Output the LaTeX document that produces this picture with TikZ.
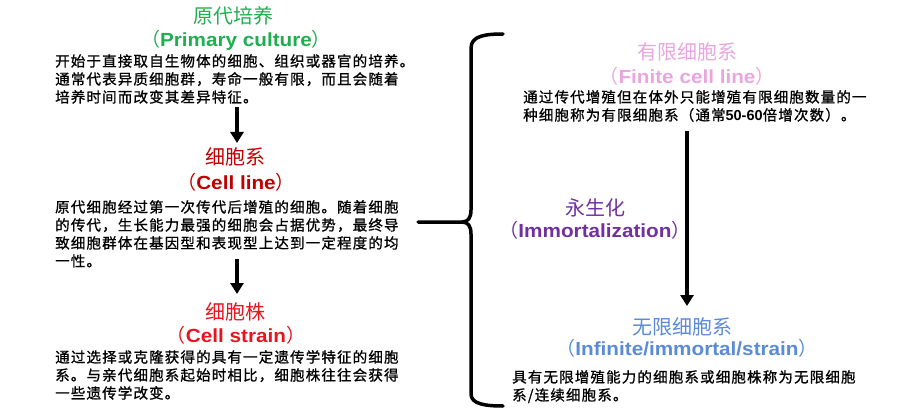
\documentclass[tikz,border=0pt]{standalone}
\usepackage{fontspec}
\setmainfont{Noto Sans CJK SC}
\newfontfamily\cjk{Noto Sans CJK SC}
\newfontfamily\cjkbody[LetterSpace=8,FakeBold=1]{Noto Sans CJK SC}
\newfontfamily\latb[FakeStretch=1.09]{Liberation Sans}
\newfontfamily\latbody{Liberation Sans}
\usetikzlibrary{arrows.meta}
\definecolor{cgreen}{HTML}{1FAE50}
\definecolor{cdred}{HTML}{C00000}
\definecolor{cred}{HTML}{E8141E}
\definecolor{cpink}{HTML}{E9A6DE}
\definecolor{cpurple}{HTML}{7030A0}
\definecolor{cblue}{HTML}{5A8AD8}
\newcommand{\lp}{{\cjk\mdseries （}}
\newcommand{\rp}{{\cjk\mdseries ）}}
\begin{document}
\begin{tikzpicture}[x=1pt,y=-1pt,
  ttl/.style={inner sep=0pt, font=\cjk\fontsize{20}{22}\selectfont},
  en/.style={inner sep=0pt, font=\latb\bfseries\fontsize{19}{21}\selectfont},
  bodytext/.style={inner sep=0pt, anchor=north west, align=left, font=\cjkbody\fontsize{14.5}{18}\selectfont},
  arr/.style={line width=3.5pt, -{Triangle[width=13pt,length=11pt]}},
  bracestyle/.style={line width=3.5pt, line cap=round, line join=round}]
\useasboundingbox (0,0) rectangle (900,417);
% left column
\node[ttl, text=cgreen] (t1) at (233,16) {原代培养};
\node[en, text=cgreen] (e1) at (236,40) {\lp Primary culture\rp};
\node[bodytext] (b1) at (55,54) {开始于直接取自生物体的细胞、组织或器官的培养。\\通常代表异质细胞群，寿命一般有限，而且会随着\\培养时间而改变其差异特征。};
\node[ttl, text=cdred] (t2) at (235,157) {细胞系};
\node[en, text=cdred] (e2) at (236,182) {\lp Cell line\rp};
\node[bodytext] (b2) at (55,200) {原代细胞经过第一次传代后增殖的细胞。随着细胞\\的传代，生长能力最强的细胞会占据优势，最终导\\致细胞群体在基因型和表现型上达到一定程度的均\\一性。};
\node[ttl, text=cred] (t3) at (235,312) {细胞株};
\node[en, text=cred] (e3) at (236,335) {\lp Cell strain\rp};
\node[bodytext] (b3) at (55,350) {通过选择或克隆获得的具有一定遗传学特征的细胞\\系。与亲代细胞系起始时相比，细胞株往往会获得\\一些遗传学改变。};
\coordinate (a1s) at (237,107);
\coordinate (a1e) at (237,143);
\coordinate (a2s) at (237,259);
\coordinate (a2e) at (237,294);
\draw[arr] (a1s) -- (a1e);
\draw[arr] (a2s) -- (a2e);
% brace
\coordinate (bt) at (503,34);
\coordinate (bb) at (503,406);
\coordinate (btip) at (418,222);
\draw[bracestyle] (bt) .. controls (485,34) and (471,36) .. (471,48) -- (471,210)
  .. controls (471,218) and (468,222) .. (462,222) -- (btip);
\draw[bracestyle] (462,222) .. controls (468,222) and (471,226) .. (471,234) -- (471,394)
  .. controls (471,404) and (485,406) .. (bb);
% middle
\node[ttl, text=cpurple] (t5) at (595,208) {永生化};
\node[en, text=cpurple] (e5) at (595,230) {\lp Immortalization\rp};
% right column
\node[ttl, text=cpink] (t4) at (687,52) {有限细胞系};
\node[en, text=cpink] (e4) at (687,76) {\lp Finite cell line\rp};
\node[bodytext] (b4) at (523,90) {通过传代增殖但在体外只能增殖有限细胞数量的一\\种细胞称为有限细胞系（通常{\latbody\bfseries 50-60}倍增次数）。};
\node[ttl, text=cblue] (t6) at (682,327) {无限细胞系};
\node[en, text=cblue] (e6) at (687,348) {\lp Infinite/immortal/strain\rp};
\node[bodytext] (b6) at (512,370) {具有无限增殖能力的细胞系或细胞株称为无限细胞\\系/连续细胞系。};
\coordinate (a3s) at (687,131);
\coordinate (a3e) at (687,306);
\draw[arr] (a3s) -- (a3e);
\end{tikzpicture}
\end{document}
